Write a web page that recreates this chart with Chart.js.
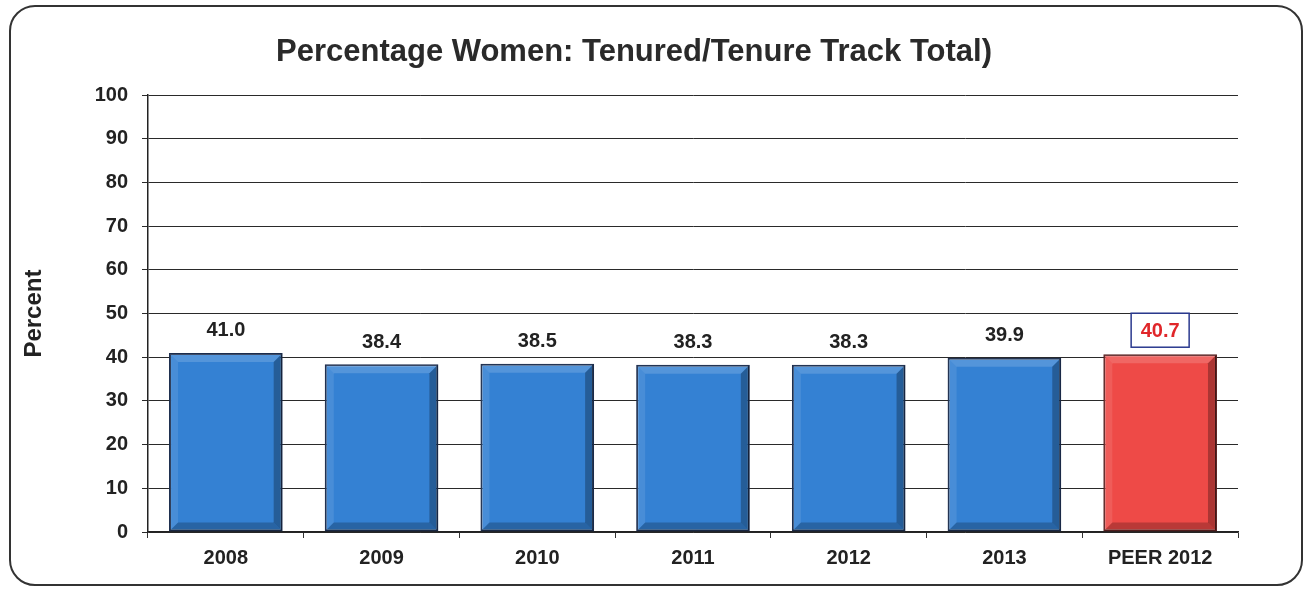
<!DOCTYPE html>
<html>
<head>
<meta charset="utf-8">
<script src="https://cdn.jsdelivr.net/npm/chart.js@4.4.1/dist/chart.umd.min.js"></script>
<style>
  html, body { margin: 0; padding: 0; background: #fff; }
  .frame {
    position: absolute; left: 9px; top: 5px; width: 1290px; height: 577px;
    border: 2px solid #333; border-radius: 26px;
  }
  .wrap { position: absolute; left: 0; top: 0; width: 1306px; height: 590px; }
</style>
</head>
<body>
<div class="frame"></div>
<div class="wrap"><canvas id="womenChart"></canvas></div>
<script>
const categories = ['2008', '2009', '2010', '2011', '2012', '2013', 'PEER 2012']
const percentValues = [41.0, 38.4, 38.5, 38.3, 38.3, 39.9, 40.7]
const yTickValues = [0, 10, 20, 30, 40, 50, 60, 70, 80, 90, 100]
const peerIndex = 6

const fontFamily = '"Liberation Sans", Arial, sans-serif'
const blue = '#3481d3'
const red = '#ee4a47'

// bevelled edges drawn over each bar, using the bar element geometry
const bevelPlugin = {
  id: 'bevel',
  afterDatasetsDraw(chart) {
    const ctx = chart.ctx
    const meta = chart.getDatasetMeta(0)
    const b = 8
    ctx.save()
    meta.data.forEach(function (bar) {
      const p = bar.getProps(['x', 'y', 'base', 'width'], true)
      const l = p.x - p.width / 2 + 1
      const r = p.x + p.width / 2 - 1
      const t = p.y + 1
      const bot = p.base - 1
      const strips = [
        [[l, t], [r, t], [r - b, t + b], [l + b, t + b], 'rgba(255,255,255,0.16)'],
        [[l, t], [l + b, t + b], [l + b, bot - b], [l, bot], 'rgba(255,255,255,0.10)'],
        [[r, t], [r, bot], [r - b, bot - b], [r - b, t + b], 'rgba(0,0,0,0.28)'],
        [[l, bot], [r, bot], [r - b, bot - b], [l + b, bot - b], 'rgba(0,0,0,0.22)']
      ]
      strips.forEach(function (s) {
        ctx.beginPath()
        ctx.moveTo(s[0][0], s[0][1])
        for (let i = 1; i < 4; i++) ctx.lineTo(s[i][0], s[i][1])
        ctx.closePath()
        ctx.fillStyle = s[4]
        ctx.fill()
      })
    })
    ctx.restore()
  }
}

// value labels above the bars
const valueLabelPlugin = {
  id: 'valueLabels',
  afterDatasetsDraw(chart) {
    const ctx = chart.ctx
    const meta = chart.getDatasetMeta(0)
    ctx.save()
    ctx.font = 'bold 20px ' + fontFamily
    ctx.textAlign = 'center'
    ctx.textBaseline = 'middle'
    meta.data.forEach(function (bar, i) {
      const text = percentValues[i].toFixed(1)
      if (i === peerIndex) {
        const cy = bar.y - 24
        ctx.strokeStyle = '#2b3a8f'
        ctx.lineWidth = 1.5
        ctx.strokeRect(bar.x - 29, cy - 17, 58, 34)
        ctx.fillStyle = '#e0262a'
        ctx.fillText(text, bar.x, cy + 1)
      } else {
        ctx.fillStyle = '#222'
        ctx.fillText(text, bar.x, bar.y - 22)
      }
    })
    ctx.restore()
  }
}

new Chart(document.querySelector('#womenChart'), {
  type: 'bar',
  data: {
    labels: categories,
    datasets: [{
      data: percentValues,
      backgroundColor: categories.map((c, i) => i === peerIndex ? red : blue),
      borderColor: categories.map((c, i) => i === peerIndex ? '#5a2020' : '#1b2c4c'),
      borderWidth: 2,
      borderSkipped: false,
      categoryPercentage: 1,
      barPercentage: 0.73
    }]
  },
  options: {
    responsive: true,
    maintainAspectRatio: false,
    animation: false,
    layout: {
      padding: { top: 8, right: 38, bottom: 12, left: 0 }
    },
    plugins: {
      legend: { display: false },
      tooltip: { enabled: false },
      title: {
        display: true,
        text: 'Percentage Women: Tenured/Tenure Track Total)',
        color: '#2a2a2a',
        font: { family: fontFamily, size: 31, weight: 'bold' },
        padding: { top: 26, bottom: 24 }
      }
    },
    scales: {
      x: {
        grid: {
          drawOnChartArea: false,
          drawTicks: true,
          tickLength: 6,
          color: '#333'
        },
        border: { color: '#222', width: 1.5 },
        ticks: {
          color: '#222',
          padding: 8,
          font: { family: fontFamily, size: 20, weight: 'bold' }
        }
      },
      y: {
        min: 0,
        max: 100,
        afterBuildTicks(scale) {
          scale.ticks = yTickValues.map(v => ({ value: v }))
        },
        afterFit(scale) {
          scale.width = 148
        },
        grid: {
          color: '#2a2a2a',
          lineWidth: 1,
          tickLength: 6
        },
        border: { color: '#222', width: 1.5 },
        ticks: {
          color: '#222',
          padding: 14,
          font: { family: fontFamily, size: 20, weight: 'bold' }
        },
        title: {
          display: true,
          text: 'Percent',
          color: '#222',
          padding: { top: 20, bottom: 0 },
          font: { family: fontFamily, size: 24, weight: 'bold' }
        }
      },
      yRight: {
        type: 'linear',
        position: 'right',
        grid: { display: false },
        border: { display: false },
        ticks: { display: false },
        afterFit(scale) {
          scale.width = 30
        }
      }
    }
  },
  plugins: [bevelPlugin, valueLabelPlugin]
})
</script>
</body>
</html>
